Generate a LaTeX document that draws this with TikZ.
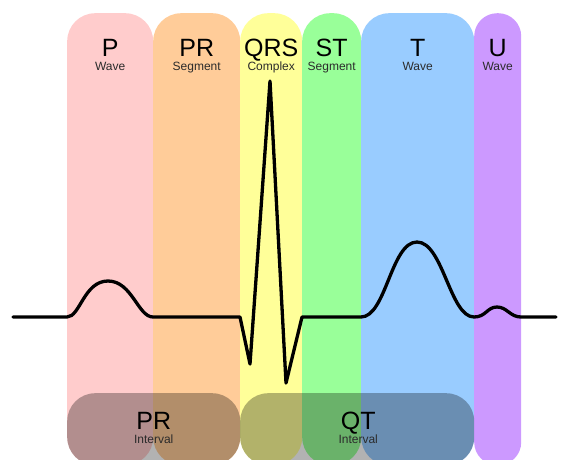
\documentclass[tikz,border=0pt]{standalone}
\usepackage{fontspec}
\setmainfont{Liberation Sans}
\usepackage{tikz}
\usetikzlibrary{positioning}
\definecolor{PWave}{HTML}{FFCCCC}
\definecolor{PRSeg}{HTML}{FFCC99}
\definecolor{QRSCx}{HTML}{FFFF99}
\definecolor{STSeg}{HTML}{99FF99}
\definecolor{TWave}{HTML}{99CCFF}
\definecolor{UWave}{HTML}{CC99FF}
\definecolor{SubText}{HTML}{2B2B2B}
\tikzset{
  band/.style={rounded corners=28pt,minimum height=452pt,anchor=north west,inner sep=0pt},
  bigname/.style={font=\fontsize{25pt}{25pt}\selectfont,text height=18pt,text depth=0pt,inner sep=0pt},
  subname/.style={font=\fontsize{12pt}{12pt}\selectfont,text=SubText,text height=8.5pt,text depth=0pt,inner sep=0pt},
  interval/.style={fill=black,fill opacity=.3,rounded corners=28pt,minimum height=72pt,anchor=north west,inner sep=0pt},
  trace/.style={draw=black,line width=3.3pt,line join=round,line cap=round}
}

\begin{document}
\begin{tikzpicture}[x=1pt,y=-1pt,node distance=5.5pt]
  \useasboundingbox (0,0) rectangle (561,459);
  \clip (0,0) rectangle (561,459);

  % coloured bands
  \node[band,fill=PWave,minimum width=86pt] (pw) at (67,13) {};
  \node[band,fill=PRSeg,minimum width=87pt] (prs) at (153,13) {};
  \node[band,fill=QRSCx,minimum width=62pt] (qrs) at (240,13) {};
  \node[band,fill=STSeg,minimum width=59pt] (sts) at (302,13) {};
  \node[band,fill=TWave,minimum width=113pt] (tw) at (361,13) {};
  \node[band,fill=UWave,minimum width=47pt,rounded corners=23pt] (uw) at (474,13) {};

  % band titles
  \node[bigname,below=25pt of pw.north] (pw-name) {P};
  \node[subname,below=of pw-name] (pw-sub) {Wave};
  \node[bigname,below=25pt of prs.north] (prs-name) {PR};
  \node[subname,below=of prs-name] (prs-sub) {Segment};
  \node[bigname,below=25pt of qrs.north] (qrs-name) {QRS};
  \node[subname,below=of qrs-name] (qrs-sub) {Complex};
  \node[bigname,below=25pt of sts.north] (sts-name) {ST};
  \node[subname,below=of sts-name] (sts-sub) {Segment};
  \node[bigname,below=25pt of tw.north] (tw-name) {T};
  \node[subname,below=of tw-name] (tw-sub) {Wave};
  \node[bigname,below=25pt of uw.north] (uw-name) {U};
  \node[subname,below=of uw-name] (uw-sub) {Wave};

  % trace
  \draw[trace] (13,317) -- (67,317)
    .. controls (80,317) and (84,281) .. (108,281)
    .. controls (132,281) and (138,317) .. (153,317)
    -- (240,317) -- (250,364) -- (270,81) -- (286,383) -- (302,317) -- (361,317)
    .. controls (386,317) and (391,242) .. (417,242)
    .. controls (443,242) and (450,317) .. (474,317)
    .. controls (486,317) and (487,307) .. (497,307)
    .. controls (507,307) and (510,317) .. (521,317) -- (556,317);

  % intervals
  \node[interval,minimum width=173pt] (pri) at (67,393) {};
  \node[interval,minimum width=234pt] (qti) at (240,393) {};
  \node[bigname,below=18pt of pri.north] (pri-name) {PR};
  \node[subname,below=of pri-name] (pri-sub) {Interval};
  \node[bigname,below=18pt of qti.north,xshift=1pt] (qti-name) {QT};
  \node[subname,below=of qti-name] (qti-sub) {Interval};
\end{tikzpicture}
\end{document}
